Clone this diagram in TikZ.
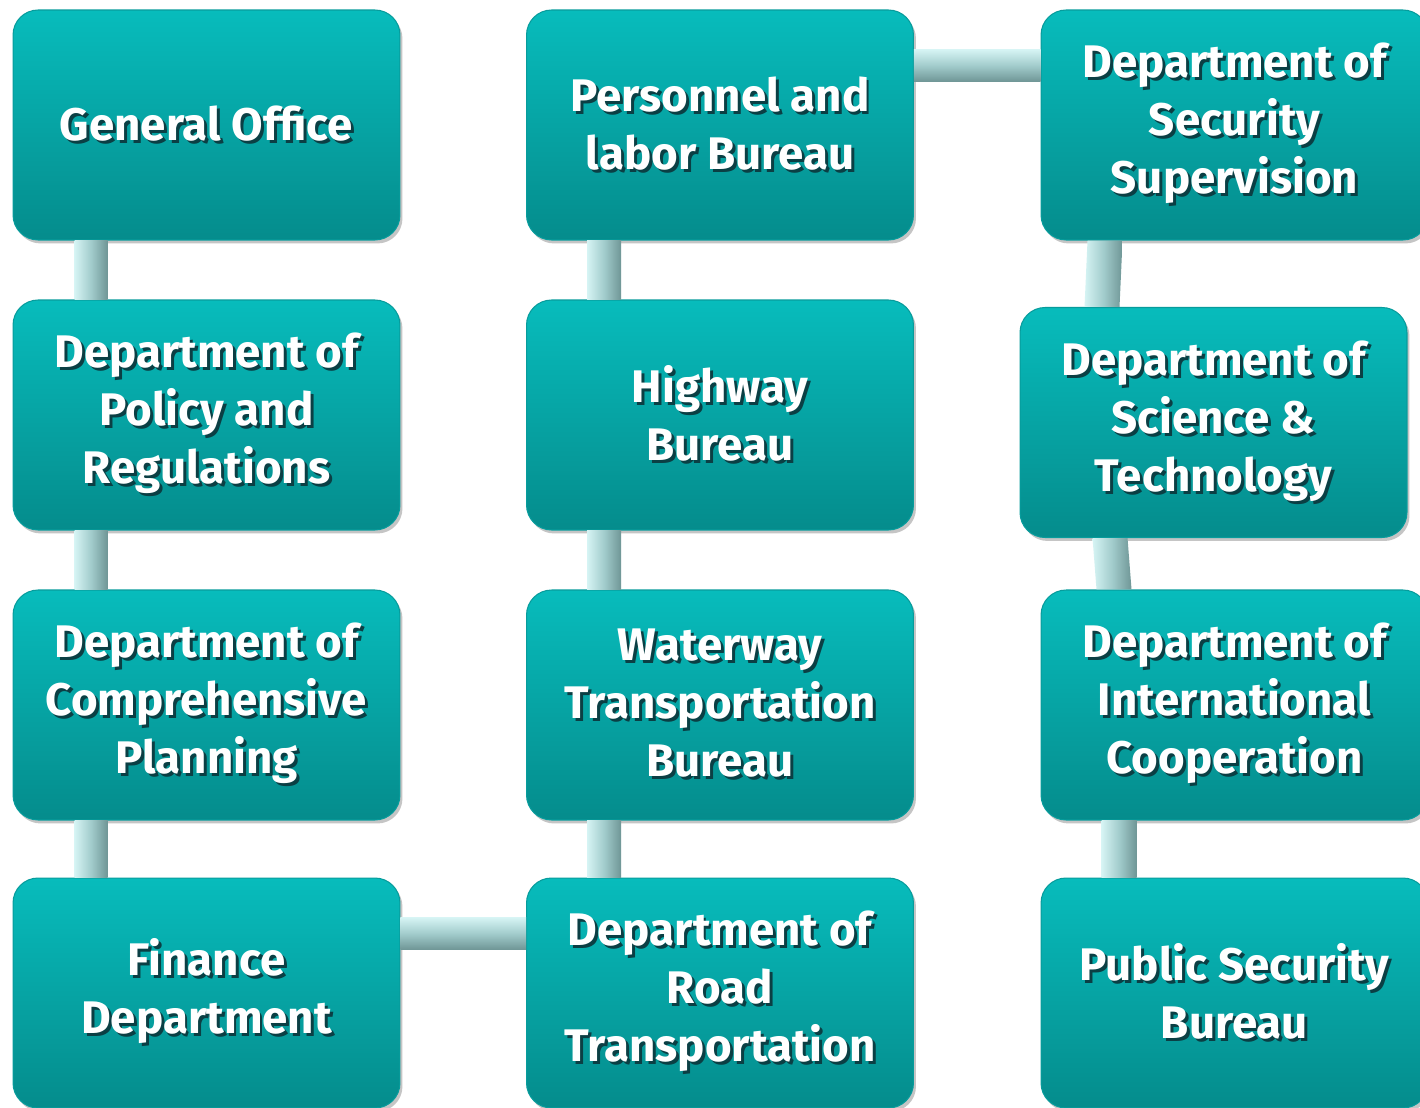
\documentclass[tikz,border=0pt]{standalone}
\usepackage{fontspec}
\setmainfont{Fira Sans}
\usetikzlibrary{calc,shadows}
\definecolor{tealtop}{HTML}{07BCBC}
\definecolor{tealbot}{HTML}{058C8C}
\definecolor{tealrim}{HTML}{079C9C}
\definecolor{barhi}{HTML}{D6F4F4}
\definecolor{barmid}{HTML}{A2CCCC}
\definecolor{barlo}{HTML}{6F9696}
\definecolor{txtshade}{HTML}{0B3F44}
\newcommand{\sh}[1]{\leavevmode\rlap{\textcolor{txtshade}{\kern1.7pt\raisebox{-1.7pt}{#1}}}#1}

\begin{document}
\begin{tikzpicture}[x=0.02cm,y=-0.02cm,
    unit/.style={rectangle, rounded corners=0.5cm, minimum width=7.74cm, minimum height=4.6cm,
      top color=tealtop, bottom color=tealbot, draw=tealrim, line width=0.6pt,
      text=white, align=center, font=\fontsize{26}{33}\selectfont\bfseries,
      drop shadow={shadow xshift=0.05cm, shadow yshift=-0.07cm, opacity=0.45}},
    vbar/.style={left color=barhi, right color=barlo, middle color=barmid},
    hbar/.style={top color=barhi, bottom color=barlo, middle color=barmid}]
  \path[use as bounding box] (0,0) rectangle (1420,1108);
  \clip (0,0) rectangle (1420,1108);
  \fill[white] (0,0) rectangle (1420,1108);

  % left column
  \node[unit] (go) at (206.5,125) {\sh{General Office}};
  \node[unit] (pol) at (206.5,415) {\sh{Department of}\\\sh{Policy and}\\\sh{Regulations}};
  \node[unit] (plan) at (206.5,705) {\sh{Department of}\\\sh{Comprehensive}\\\sh{Planning}};
  \node[unit] (fin) at (206.5,993) {\sh{Finance}\\\sh{Department}};

  % middle column
  \node[unit] (pers) at (720,125) {\sh{Personnel and}\\\sh{labor Bureau}};
  \node[unit] (hwy) at (720,415) {\sh{Highway}\\\sh{Bureau}};
  \node[unit] (wtr) at (720,705) {\sh{Waterway}\\\sh{Transportation}\\\sh{Bureau}};
  \node[unit] (road) at (720,993) {\sh{Department of}\\\sh{Road}\\\sh{Transportation}};

  % right column
  \node[unit] (secs) at (1234.5,125) {\sh{Department of}\\\sh{Security}\\\sh{Supervision}};
  \node[unit] (sci) at (1213.5,422.5) {\sh{Department of}\\\sh{Science \&}\\\sh{Technology}};
  \node[unit] (intl) at (1234.5,705) {\sh{Department of}\\\sh{International}\\\sh{Cooperation}};
  \node[unit] (psb) at (1234.5,993) {\sh{Public Security}\\\sh{Bureau}};

  % links
  \shade[vbar] ($(go.south west)+(62,0)$) rectangle ($(pol.north west)+(95,0)$);
  \shade[vbar] ($(pol.south west)+(62,0)$) rectangle ($(plan.north west)+(95,0)$);
  \shade[vbar] ($(plan.south west)+(62,0)$) rectangle ($(fin.north west)+(95,0)$);
  \shade[vbar] ($(pers.south west)+(61,0)$) rectangle ($(hwy.north west)+(95,0)$);
  \shade[vbar] ($(hwy.south west)+(61,0)$) rectangle ($(wtr.north west)+(95,0)$);
  \shade[vbar] ($(wtr.south west)+(61,0)$) rectangle ($(road.north west)+(95,0)$);
  \shade[hbar] ($(pers.north east)+(0,40)$) rectangle ($(secs.north west)+(0,72)$);
  \shade[hbar] ($(fin.north east)+(0,40)$) rectangle ($(road.north west)+(0,72)$);
  \shade[vbar] ($(secs.south west)+(47,0)$) -- ($(secs.south west)+(82,0)$)
    -- ($(sci.north west)+(100,0)$) -- ($(sci.north west)+(65,0)$) -- cycle;
  \shade[vbar] ($(sci.south west)+(73,0)$) -- ($(sci.south west)+(108,0)$)
    -- ($(intl.north west)+(91,0)$) -- ($(intl.north west)+(56,0)$) -- cycle;
  \shade[vbar] ($(intl.south west)+(61,0)$) rectangle ($(psb.north west)+(96,0)$);
\end{tikzpicture}
\end{document}
